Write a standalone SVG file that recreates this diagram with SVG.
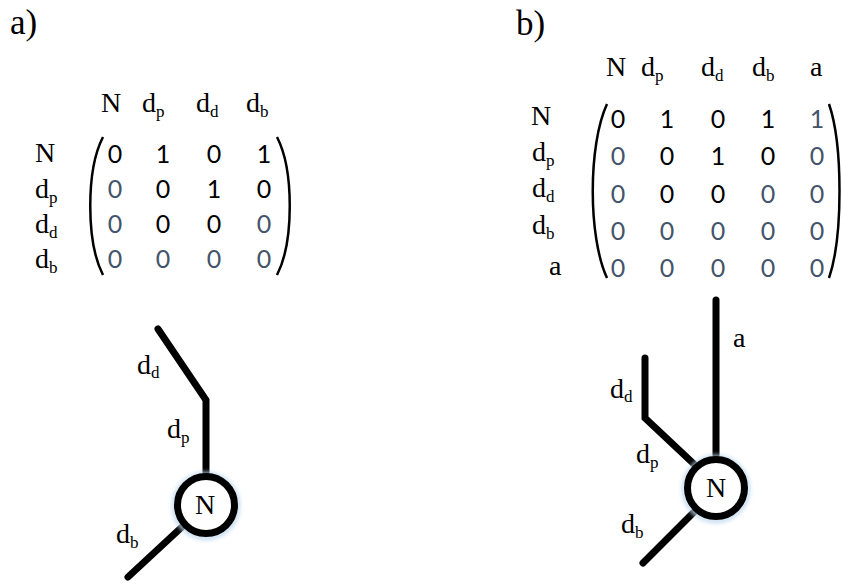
<svg xmlns="http://www.w3.org/2000/svg" width="843" height="585" viewBox="0 0 843 585">
<defs>
<style>
.lbl{font-family:"Liberation Serif","Times New Roman",serif;font-size:28px;fill:#000}
.ttl{font-family:"Liberation Serif","Times New Roman",serif;font-size:35px;fill:#000}
.sub{font-size:17px}
.num{font-family:Lato,"Open Sans",sans-serif;font-size:25px;text-anchor:middle;fill:#000}
.g{fill:#44546A}
.par{fill:none;stroke:#000;stroke-width:2.5}
.edge{fill:none;stroke:#000;stroke-width:7;stroke-linecap:round;stroke-linejoin:miter}
.node{fill:#fff;stroke:#000;stroke-width:7}
</style>
<filter id="glow" x="-30%" y="-30%" width="160%" height="160%">
<feGaussianBlur stdDeviation="2"/>
</filter>
</defs>
<rect width="843" height="585" fill="#fff"/>

<text class="ttl" x="10" y="34">a)</text>
<text class="ttl" x="516" y="35">b)</text>

<g id="matrix-a">
<text class="lbl" x="101" y="112">N</text>
<text class="lbl" x="142" y="112">d<tspan class="sub" dy="5">p</tspan></text>
<text class="lbl" x="196" y="112">d<tspan class="sub" dy="5">d</tspan></text>
<text class="lbl" x="246" y="112">d<tspan class="sub" dy="5">b</tspan></text>
<text class="lbl" x="35" y="162">N</text>
<text class="lbl" x="35" y="198">d<tspan class="sub" dy="5">p</tspan></text>
<text class="lbl" x="35" y="233">d<tspan class="sub" dy="5">d</tspan></text>
<text class="lbl" x="35" y="268">d<tspan class="sub" dy="5">b</tspan></text>
<path class="par" d="M103,137 C86,170 86,242 103,275"/>
<path class="par" d="M277,137 C294,170 294,242 277,275"/>
<text class="num" x="115" y="163">0</text><text class="num" x="163" y="163">1</text><text class="num" x="214" y="163">0</text><text class="num" x="264" y="163">1</text>
<text class="num g" x="115" y="198">0</text><text class="num" x="163" y="198">0</text><text class="num" x="214" y="198">1</text><text class="num" x="264" y="198">0</text>
<text class="num g" x="115" y="233">0</text><text class="num" x="163" y="233">0</text><text class="num" x="214" y="233">0</text><text class="num g" x="264" y="233">0</text>
<text class="num g" x="115" y="268">0</text><text class="num g" x="163" y="268">0</text><text class="num g" x="214" y="268">0</text><text class="num g" x="264" y="268">0</text>
</g>

<g id="matrix-b">
<text class="lbl" x="606" y="76">N</text>
<text class="lbl" x="641" y="76">d<tspan class="sub" dy="5">p</tspan></text>
<text class="lbl" x="701" y="76">d<tspan class="sub" dy="5">d</tspan></text>
<text class="lbl" x="752" y="76">d<tspan class="sub" dy="5">b</tspan></text>
<text class="lbl" x="810" y="76">a</text>
<text class="lbl" x="531" y="125">N</text>
<text class="lbl" x="532" y="161">d<tspan class="sub" dy="5">p</tspan></text>
<text class="lbl" x="532" y="197">d<tspan class="sub" dy="5">d</tspan></text>
<text class="lbl" x="532" y="234">d<tspan class="sub" dy="5">b</tspan></text>
<text class="lbl" x="549" y="275">a</text>
<path class="par" d="M607,104 C588,145 588,237 607,278"/>
<path class="par" d="M829,104 C843,145 843,237 829,278"/>
<text class="num" x="618" y="128">0</text><text class="num" x="667" y="128">1</text><text class="num" x="718" y="128">0</text><text class="num" x="768" y="128">1</text><text class="num g" x="817" y="128">1</text>
<text class="num g" x="618" y="165">0</text><text class="num" x="667" y="165">0</text><text class="num" x="718" y="165">1</text><text class="num" x="768" y="165">0</text><text class="num g" x="817" y="165">0</text>
<text class="num g" x="618" y="203">0</text><text class="num" x="667" y="203">0</text><text class="num" x="718" y="203">0</text><text class="num g" x="768" y="203">0</text><text class="num g" x="817" y="203">0</text>
<text class="num g" x="618" y="240">0</text><text class="num g" x="667" y="240">0</text><text class="num g" x="718" y="240">0</text><text class="num g" x="768" y="240">0</text><text class="num g" x="817" y="240">0</text>
<text class="num g" x="618" y="277">0</text><text class="num g" x="667" y="277">0</text><text class="num g" x="718" y="277">0</text><text class="num g" x="768" y="277">0</text><text class="num g" x="817" y="277">0</text>
</g>

<g id="connectors">
<path class="edge" d="M206,476 L206,400 L158,329"/>
<path class="edge" d="M183,526 L128,577"/>
<path class="edge" d="M716,455 L716,300"/>
<path class="edge" d="M695,465 L645,418 L645,358"/>
<path class="edge" d="M694,512 L643,563"/>
</g>
<g id="edge-labels">
<text class="lbl" x="137" y="374">d<tspan class="sub" dy="4">d</tspan></text>
<text class="lbl" x="167" y="438">d<tspan class="sub" dy="5">p</tspan></text>
<text class="lbl" x="116" y="543">d<tspan class="sub" dy="5">b</tspan></text>
<text class="lbl" x="733" y="347">a</text>
<text class="lbl" x="610" y="398">d<tspan class="sub" dy="4">d</tspan></text>
<text class="lbl" x="636" y="463">d<tspan class="sub" dy="5">p</tspan></text>
<text class="lbl" x="621" y="533">d<tspan class="sub" dy="5">b</tspan></text>
</g>

<g id="node-a">
<circle cx="206" cy="506" r="32" fill="none" stroke="#BDD7EE" stroke-width="4" filter="url(#glow)"/>
<circle class="node" cx="206" cy="505" r="28.5"/>
<text class="lbl" x="205" y="514" text-anchor="middle">N</text>
</g>
<g id="node-b">
<circle cx="716" cy="489" r="32" fill="none" stroke="#BDD7EE" stroke-width="4" filter="url(#glow)"/>
<circle class="node" cx="716" cy="488" r="28.5"/>
<text class="lbl" x="716" y="497" text-anchor="middle">N</text>
</g>
</svg>
